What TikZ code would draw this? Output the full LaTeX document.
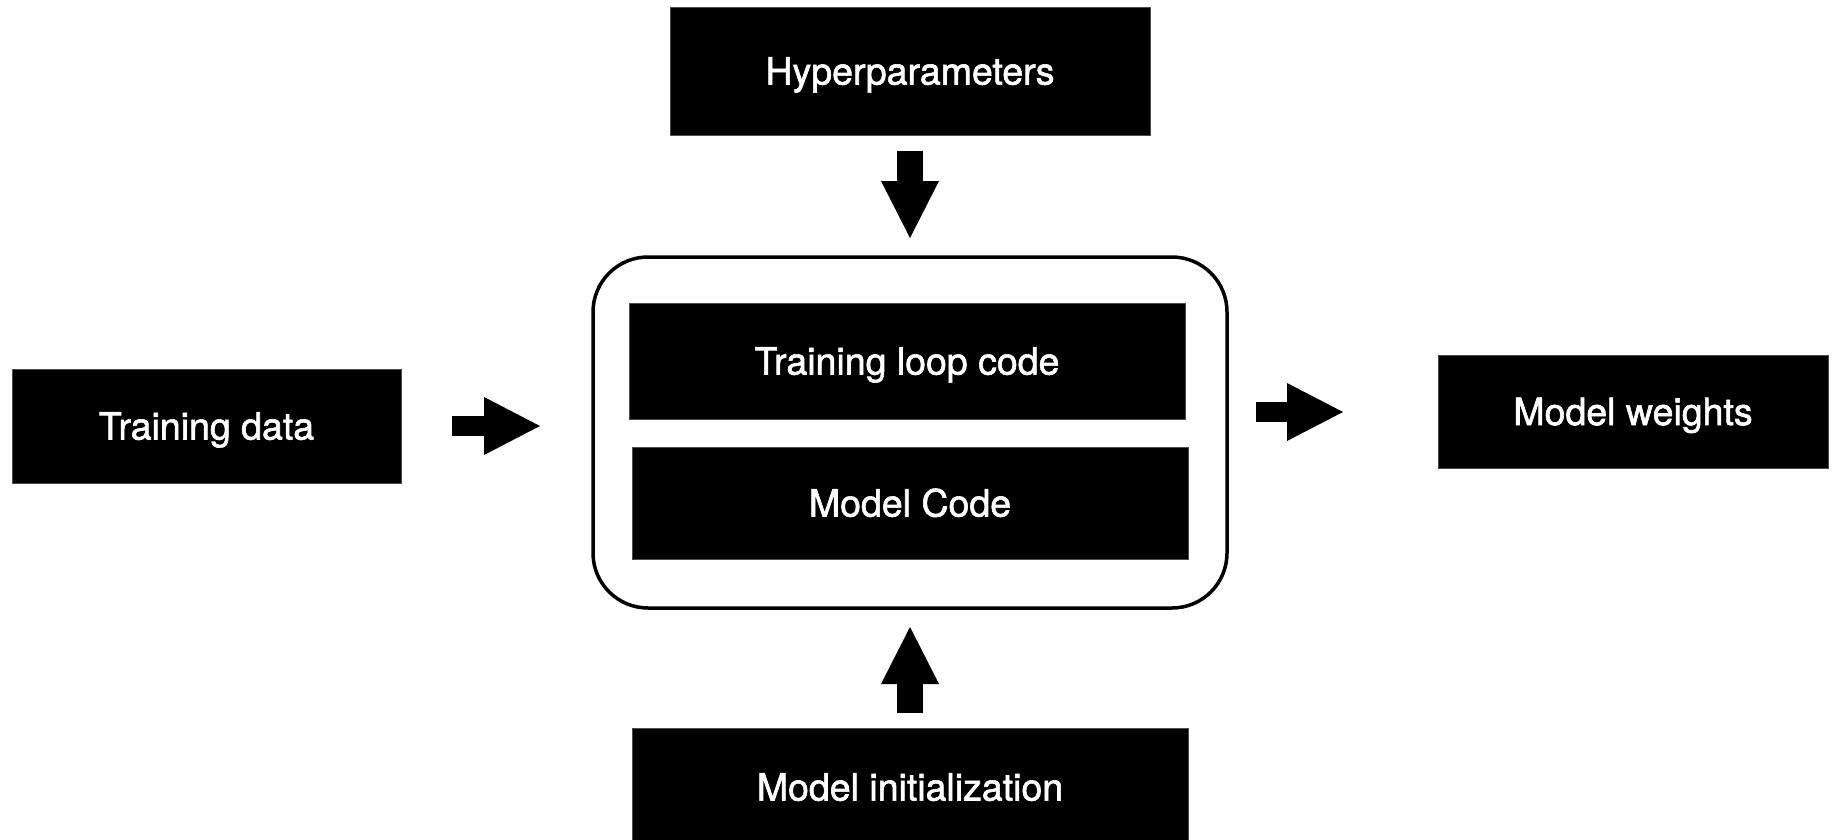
\documentclass[tikz,border=0pt]{standalone}
\usepackage{fontspec}
\setmainfont{TeX Gyre Heros}
\newfontfamily\labelfont[FakeBold=1.6]{TeX Gyre Heros}
\usetikzlibrary{arrows.meta}

\begin{document}
\begin{tikzpicture}[x=1pt, y=-1pt,
  box/.style={fill=black, draw=black!70, line width=0.6pt, text=white, inner sep=0pt,
    font=\labelfont\fontsize{37.5}{40}\selectfont, text height=27pt, text depth=0pt},
  frame/.style={draw=black, line width=3.5pt, rounded corners=55pt},
  vflow/.style={line width=26pt, -{Triangle[length=57pt, width=58pt, line width=0pt]}},
  hflow/.style={line width=20pt, -{Triangle[length=56pt, width=58pt, line width=0pt]}}]

  % page frame
  \useasboundingbox (0,0) rectangle (1839,840);
  \clip (0,0) rectangle (1839,840);

  % outer container with the two code blocks
  \draw[frame] (593,257) rectangle (1227,608);
  \node[box, minimum width=556pt, minimum height=116pt] (loop)  at (907,361) {Training loop code};
  \node[box, minimum width=556pt, minimum height=112pt] (mcode) at (910,503) {Model Code};

  % inputs and output
  \node[box, minimum width=480pt, minimum height=128pt] (hyper)   at (910,71)    {Hyperparameters};
  \node[box, minimum width=389pt, minimum height=114pt] (data)    at (206.5,426) {Training data};
  \node[box, minimum width=390pt, minimum height=113pt] (weights) at (1633,411.5){Model weights};
  \node[box, minimum width=556pt, minimum height=118pt] (init)    at (910,787)   {Model initialization};

  % arrow end points between the blocks
  \coordinate (hyperA) at (910,151);
  \coordinate (hyperB) at (910,238);
  \coordinate (initA)  at (910,713);
  \coordinate (initB)  at (910,627);
  \coordinate (dataA)  at (452,426);
  \coordinate (dataB)  at (540,426);
  \coordinate (outA)   at (1256,412);
  \coordinate (outB)   at (1343,412);

  \draw[vflow] (hyperA) -- (hyperB);
  \draw[vflow] (initA) -- (initB);
  \draw[hflow] (dataA) -- (dataB);
  \draw[hflow] (outA) -- (outB);
\end{tikzpicture}
\end{document}
